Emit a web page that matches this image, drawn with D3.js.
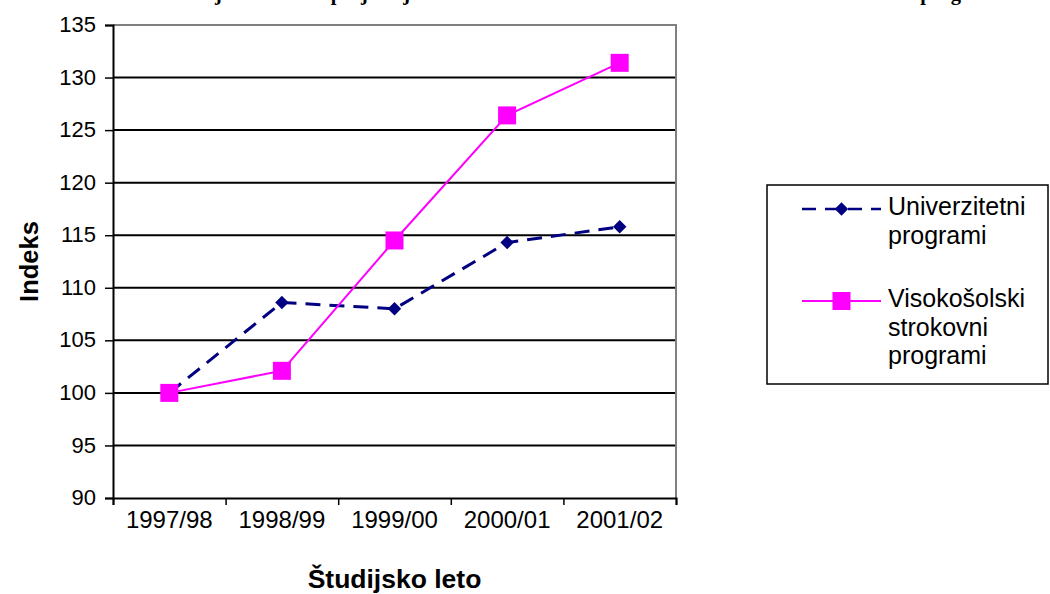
<!DOCTYPE html>
<html>
<head>
<meta charset="utf-8">
<script src="https://cdn.jsdelivr.net/npm/d3@7"></script>
<style>
  html, body { margin: 0; padding: 0; background: #fff; }
  svg { display: block; }
  text { font-family: "Liberation Sans", Arial, sans-serif; fill: #000; }
</style>
</head>
<body>
<svg id="chart" width="1050" height="594"></svg>
<script>
// ---- data ----
const titleText = "Slika 3: Gibanje indeksa in projekcija rasti števila študentov na univerzitetnih in visokošolskih programih";
const categories = ["1997/98", "1998/99", "1999/00", "2000/01", "2001/02"];
const univerzitetni = [100, 108.6, 108.0, 114.3, 115.8];
const visokosolski = [100, 102.1, 114.5, 126.4, 131.4];
const yTicks = [90, 95, 100, 105, 110, 115, 120, 125, 130, 135];
const seriesNames = [["Univerzitetni", "programi"], ["Visokošolski", "strokovni", "programi"]];
const xTitle = "Študijsko leto";
const yTitle = "Indeks";

// ---- layout ----
const svg = d3.select("#chart");
const L = 113, R = 676, T = 25, B = 498;

const xb = d3.scaleBand().domain(categories).range([L, R]);
const xi = d3.scaleLinear().domain([0, categories.length]).range([L, R]);
const y = d3.scaleLinear().domain([90, 135]).range([B, T]);
const cx = c => xb(c) + xb.bandwidth() / 2;

// clipped title at very top (only descenders visible, as in the reference)
const title = svg.append("text")
  .attr("x", 0).attr("y", 0)
  .style("font-family", "'Liberation Serif', 'Times New Roman', serif")
  .style("font-weight", "bold")
  .style("font-size", "20.5px")
  .text(titleText);
{
  const node = title.node();
  const pos = node.getStartPositionOfChar(titleText.indexOf("j")).x;
  title.attr("x", 215 - pos);
}

// gridlines
svg.append("g").selectAll("line")
  .data(yTicks.filter(v => v > 90 && v < 135))
  .join("line")
  .attr("x1", L).attr("x2", R)
  .attr("y1", d => y(d)).attr("y2", d => y(d))
  .attr("stroke", "#000").attr("stroke-width", 2);

// plot border top/right (gray)
svg.append("path")
  .attr("d", `M${L},${y(135)}H${R}V${y(90)}`)
  .attr("fill", "none").attr("stroke", "#808080").attr("stroke-width", 2);

// y axis
const yAxis = svg.append("g")
  .attr("transform", `translate(${L},0)`)
  .call(d3.axisLeft(y).tickValues(yTicks).tickSize(8).tickPadding(9));
yAxis.select(".domain").attr("stroke", "#000").attr("stroke-width", 2);
yAxis.selectAll(".tick line").attr("stroke", "#000").attr("stroke-width", 1.5);
yAxis.selectAll("text")
  .style("font-family", "'Liberation Sans', Arial, sans-serif")
  .style("font-size", "22px").attr("fill", "#000").attr("dy", "0.3em");

// x axis: tick marks at band boundaries
const xTickAxis = svg.append("g")
  .attr("transform", `translate(0,${B})`)
  .call(d3.axisBottom(xi).tickValues(d3.range(categories.length + 1)).tickSize(7).tickFormat(""));
xTickAxis.select(".domain").attr("stroke", "#000").attr("stroke-width", 2);
xTickAxis.selectAll(".tick line").attr("stroke", "#000").attr("stroke-width", 1.5);

// x labels
const xLab = svg.append("g")
  .attr("transform", `translate(0,${B})`)
  .call(d3.axisBottom(xb).tickSize(0).tickPadding(30));
xLab.select(".domain").remove();
xLab.selectAll("text")
  .style("font-family", "'Liberation Sans', Arial, sans-serif")
  .style("font-size", "24px").attr("fill", "#000").attr("dy", "0");

// axis titles
svg.append("text")
  .attr("x", (L + R) / 2).attr("y", 588)
  .attr("text-anchor", "middle")
  .style("font-weight", "bold").style("font-size", "26.5px")
  .text(xTitle);
svg.append("text")
  .attr("transform", `translate(38,${(T + B) / 2}) rotate(-90)`)
  .attr("text-anchor", "middle")
  .style("font-weight", "bold").style("font-size", "25.5px")
  .text(yTitle);

// series
const navy = "#000080", magenta = "#FF00FF";
const line = d3.line().x((d, i) => cx(categories[i])).y(d => y(d));

svg.append("path").datum(univerzitetni)
  .attr("d", line).attr("fill", "none")
  .attr("stroke", navy).attr("stroke-width", 3)
  .attr("stroke-dasharray", "15,9");

svg.append("path").datum(visokosolski)
  .attr("d", line).attr("fill", "none")
  .attr("stroke", magenta).attr("stroke-width", 2);

const diamond = d3.symbol().type(d3.symbolSquare).size(90);
const square = d3.symbol().type(d3.symbolSquare).size(324);

svg.append("g").selectAll("path")
  .data(univerzitetni).join("path")
  .attr("d", diamond)
  .attr("transform", (d, i) => `translate(${cx(categories[i])},${y(d)}) rotate(45)`)
  .attr("fill", navy);

svg.append("g").selectAll("path")
  .data(visokosolski).join("path")
  .attr("d", square)
  .attr("transform", (d, i) => `translate(${cx(categories[i])},${y(d)})`)
  .attr("fill", magenta);

// legend
const lg = svg.append("g");
lg.append("rect")
  .attr("x", 767).attr("y", 185).attr("width", 281).attr("height", 199)
  .attr("fill", "#fff").attr("stroke", "#000").attr("stroke-width", 1.5);

const lx1 = 802, lx2 = 881, lmid = (lx1 + lx2) / 2;
const entries = [
  { name: seriesNames[0], color: navy, dash: "14,9", width: 2.5, sym: diamond, rot: 45, ly: 209, ty: 215 },
  { name: seriesNames[1], color: magenta, dash: null, width: 2, sym: square, rot: 0, ly: 301, ty: 307 }
];
entries.forEach(e => {
  lg.append("line")
    .attr("x1", lx1).attr("x2", lx2).attr("y1", e.ly).attr("y2", e.ly)
    .attr("stroke", e.color).attr("stroke-width", e.width)
    .attr("stroke-dasharray", e.dash);
  lg.append("path").attr("d", e.sym)
    .attr("transform", `translate(${lmid},${e.ly}) rotate(${e.rot})`)
    .attr("fill", e.color);
  const t = lg.append("text").attr("x", 888).attr("y", e.ty)
    .style("font-size", "25px");
  e.name.forEach((s, k) => {
    t.append("tspan").attr("x", 888).attr("dy", k === 0 ? 0 : 28.5).text(s);
  });
});
</script>
</body>
</html>
